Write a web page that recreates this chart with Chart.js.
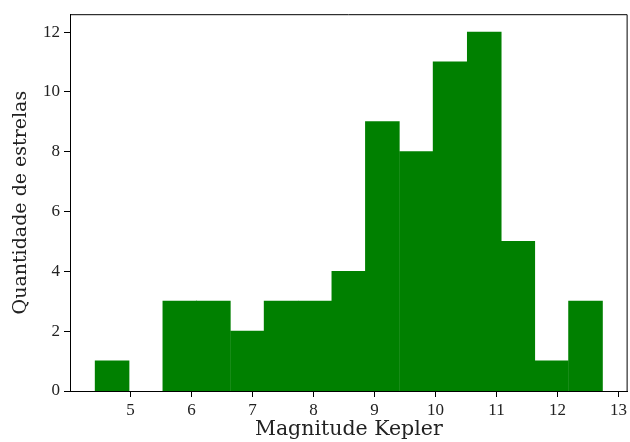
<!DOCTYPE html>
<html>
<head>
<meta charset="utf-8">
<script src="https://cdn.jsdelivr.net/npm/chart.js@4"></script>
<style>
  html, body { margin: 0; padding: 0; background: #fff; }
  #wrap { width: 630px; height: 442px; }
</style>
</head>
<body>
<div id="wrap"><canvas id="histChart" width="630" height="442"></canvas></div>
<script>
// histogram bins (centers), width ~0.554 mag
const binCenters = [4.70, 5.26, 5.81, 6.36, 6.92, 7.47, 8.03, 8.58, 9.13, 9.69, 10.24, 10.80, 11.35, 11.90, 12.46]
const counts = [1, 0, 3, 3, 2, 3, 3, 4, 9, 8, 11, 12, 5, 1, 3]
const xTicks = [5, 6, 7, 8, 9, 10, 11, 12, 13]
const yTicks = [0, 2, 4, 6, 8, 10, 12]

const serif = "'DejaVu Serif', serif"
const tickFont = "'Liberation Serif', serif"

// top + right spines
const frame = {
  id: 'frame',
  afterDraw(chart) {
    const a = chart.chartArea
    const ctx = chart.ctx
    ctx.save()
    ctx.strokeStyle = '#000'
    ctx.lineWidth = 1
    ctx.beginPath()
    ctx.moveTo(a.left, a.top + 0.5)
    ctx.lineTo(a.right - 0.5, a.top + 0.5)
    ctx.lineTo(a.right - 0.5, a.bottom)
    ctx.stroke()
    ctx.restore()
  }
}

const data = {
  datasets: [
    {
      label: 'Quantidade de estrelas',
      data: binCenters.map((x, i) => ({ x: x, y: counts[i] })),
      backgroundColor: '#008000',
      borderColor: '#008000',
      borderWidth: 0,
      // slight overlap hides seams; empty bins stay empty
      inflateAmount: (c) => (c.raw && c.raw.y > 0 ? 0.5 : 0),
      barPercentage: 1,
      categoryPercentage: 1,
    },
  ],
}

const config = {
  type: 'bar',
  data: data,
  options: {
    responsive: false,
    animation: false,
    layout: { padding: { top: 13, right: 2, left: 0, bottom: 0 } },
    plugins: { legend: { display: false }, tooltip: { enabled: false } },
    scales: {
      x: {
        type: 'linear',
        min: 4.01,
        max: 13.15,
        offset: false,
        afterBuildTicks: (s) => { s.ticks = xTicks.map(v => ({ value: v })) },
        afterFit: (s) => { s.height = 51 },
        grid: { offset: false, drawOnChartArea: false, drawTicks: true, tickLength: 6, color: '#000' },
        border: { display: true, color: '#000' },
        ticks: { color: '#222', font: { family: tickFont, size: 17 }, padding: 3, maxRotation: 0 },
        title: { display: true, text: 'Magnitude Kepler', color: '#222', font: { family: serif, size: 20.5 }, padding: { top: 0, bottom: 0 } },
      },
      y: {
        min: 0,
        max: 12.6,
        afterBuildTicks: (s) => { s.ticks = yTicks.map(v => ({ value: v })) },
        afterFit: (s) => { s.width = 70 },
        grid: { drawOnChartArea: false, drawTicks: true, tickLength: 6, color: '#000' },
        border: { display: true, color: '#000' },
        ticks: { color: '#222', font: { family: tickFont, size: 17 }, padding: 4 },
        title: { display: true, text: 'Quantidade de estrelas', color: '#222', font: { family: serif, size: 19 }, padding: { top: 10, bottom: 0 } },
      },
    },
  },
  plugins: [frame],
}

const canvas = document.getElementById('histChart')
const chart = new Chart(canvas, config)
</script>
</body>
</html>
